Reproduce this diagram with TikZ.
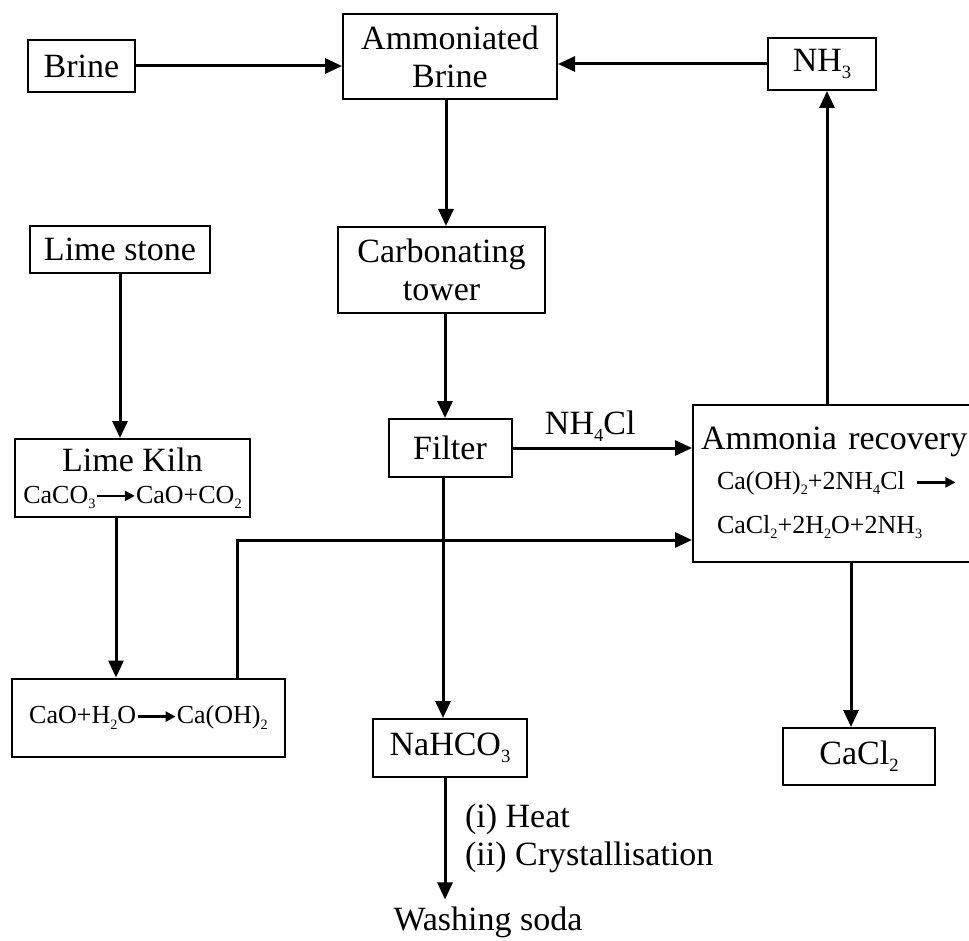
\documentclass[tikz,border=0pt]{standalone}
\usepackage{fontspec}
\setmainfont{Liberation Serif}
\usepackage{tikz}
\usetikzlibrary{positioning,arrows.meta,calc}
\newcommand{\chsub}[1]{\raisebox{-0.45ex}{\scalebox{0.55}{#1}}}
\newcommand{\eqsize}{\fontsize{13}{15}\selectfont}
\newcommand{\yields}{\tikz[baseline=-0.6ex]\draw[line width=1.3pt,-{Triangle[length=5pt,width=5pt]}] (0pt,0pt) -- (19pt,0pt);}

\begin{document}
\begin{tikzpicture}[x=0.5pt, y=-0.5pt,
  every node/.style={font=\fontsize{17}{19}\selectfont},
  box/.style={draw, line width=1pt, inner sep=2pt, align=center},
  flow/.style={line width=1.5pt, -{Triangle[length=8.5pt,width=7.5pt]}}]
\useasboundingbox (0,0) rectangle (969,941);

% Top row
\node[box, minimum width=53.5pt, minimum height=26pt] (brine) at (81.5,66) {Brine};
\node[box, minimum width=107pt, minimum height=42.5pt] (ambr) at (450,56.5) {Ammoniated\\Brine};
\node[box, minimum width=54pt, minimum height=26pt] (nh3) at (822,64) {NH\chsub{3}};

% Middle
\node[box, minimum width=90pt, minimum height=23.5pt] (lime) at (120,249.5) {Lime stone};
\node[box, minimum width=103.5pt, minimum height=43pt] (carb) at (441.5,270) {Carbonating\\tower};
\node[box, minimum width=117.5pt, minimum height=39pt] (kiln) at (132.5,478)
  {Lime Kiln\\[-3pt]{\eqsize CaCO\chsub{3}\yields CaO+CO\chsub{2}}};
\node[box, minimum height=78.5pt, align=left, text width=150pt, anchor=west] (amm) at (692,483)
  {\hspace*{2pt}Ammonia recovery\\[1pt]
   \hspace*{10pt}{\eqsize Ca(OH)\chsub{2}+2NH\chsub{4}Cl\ \yields}\\[3pt]
   \hspace*{10pt}{\eqsize CaCl\chsub{2}+2H\chsub{2}O+2NH\chsub{3}}};
\node[box, minimum width=61.5pt, minimum height=29pt] (filter) at (450,448) {Filter};

% Bottom row
\node[box, minimum width=136.5pt, minimum height=39pt] (cao) at (148.5,717.5)
  {\eqsize CaO+H\chsub{2}O\yields Ca(OH)\chsub{2}};
\node[box, minimum width=77pt, minimum height=29pt] (nahco3) at (450,748) {NaHCO\chsub{3}};
\node[box, minimum width=76pt, minimum height=28.5pt] (cacl2) at (859,756.5) {CaCl\chsub{2}};
\node (wash) at (488,922) {Washing soda};
\node[anchor=west, align=left] (steps) at (458,838) {(i) Heat\\(ii) Crystallisation};

% Connectors
\draw[flow] (brine.east) -- (brine.east -| ambr.west);
\draw[flow] (nh3.west) -- (nh3.west -| ambr.east);
\draw[flow] (amm.north -| 827,0) -- ($(nh3.south)+(5,0)$);
\draw[flow] ($(ambr.south)+(-4,0)$) -- ($(ambr.south |- carb.north)+(-4,0)$);
\draw[flow] ($(carb.south)+(3.5,0)$) -- ($(carb.south |- filter.north)+(3.5,0)$);
\draw[flow] (lime.south) -- (lime.south |- kiln.north);
\draw[flow] (filter.east) -- node[above, yshift=-1pt, xshift=-6pt] {NH\chsub{4}Cl} (filter.east -| amm.west);
\draw[flow] ($(kiln.south)+(-16.5,0)$) -- ($(kiln.south |- cao.north)+(-16.5,0)$);
\draw[flow] ($(cao.north)+(88.5,0)$) |- ($(amm.west)+(0,57)$);
\draw[flow] ($(filter.south)+(-7,0)$) -- ($(filter.south |- nahco3.north)+(-7,0)$);
\draw[flow] ($(nahco3.south)+(-5,0)$) -- ($(nahco3.south |- wash.north)+(-5,0)$);
\draw[flow] ($(amm.south -| cacl2.north)+(-8,0)$) -- ($(cacl2.north)+(-8,0)$);
\end{tikzpicture}
\end{document}
